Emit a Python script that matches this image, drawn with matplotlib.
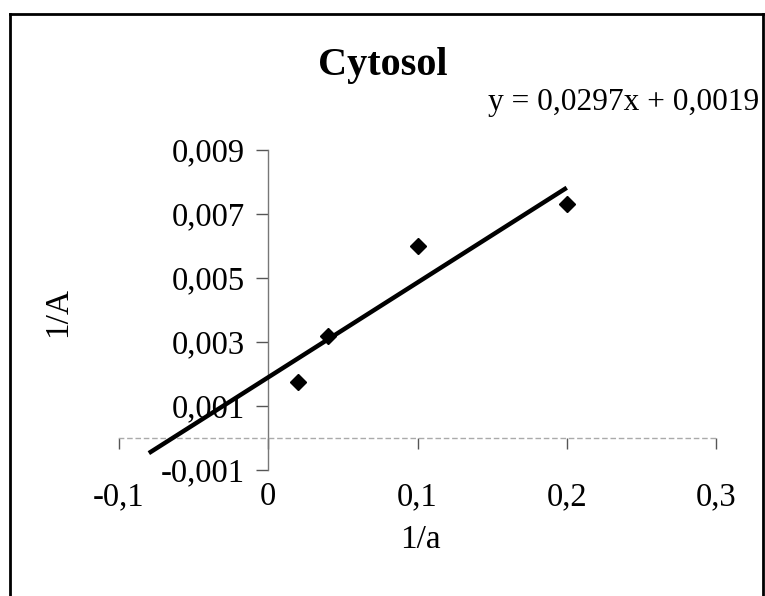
#Lineweaver-Burk style plot, cytosol fraction
import numpy as np
import matplotlib.pyplot as plt
from matplotlib.lines import Line2D
from matplotlib.transforms import blended_transform_factory

plt.rcParams['font.family'] = ['Liberation Serif', 'DejaVu Serif']

inv_a = [0.02, 0.04, 0.1, 0.2]
inv_A = [0.00175, 0.0032, 0.006, 0.0073]

xticks = [-0.1, 0, 0.1, 0.2, 0.3]
xlabels = ['-0,1', '0', '0,1', '0,2', '0,3']
yticks = [-0.001, 0.001, 0.003, 0.005, 0.007, 0.009]
ylabels = ['-0,001', '0,001', '0,003', '0,005', '0,007', '0,009']

# linear trend, extended 0.1 backwards like Excel does
slope, icept = np.polyfit(inv_a, inv_A, 1)
x_fit = np.array([min(inv_a) - 0.1, max(inv_a)])
y_fit = slope * x_fit + icept

fig = plt.figure(figsize=(7.65, 5.96), dpi=100)
ax = fig.add_axes([119/765, 1 - 470/596, (716 - 119)/765, (470 - 150)/596])

ax.plot(x_fit, y_fit, color='black', linewidth=3.2, solid_capstyle='butt', zorder=3)
ax.plot(inv_a, inv_A, linestyle='none', marker='D', markersize=8,
        color='black', zorder=4)

ax.set_xlim(-0.1, 0.3)
ax.set_ylim(-0.001, 0.009)

for s in ['top', 'right']:
    ax.spines[s].set_visible(False)
ax.spines['left'].set_position(('data', 0))
ax.spines['left'].set_color('#777777')
ax.spines['left'].set_linewidth(1.0)
ax.spines['bottom'].set_position(('data', 0))
ax.spines['bottom'].set_color('#aaaaaa')
ax.spines['bottom'].set_linewidth(1.0)
ax.spines['bottom'].set_linestyle((0, (3, 3)))

ax.set_yticks(yticks)
ax.set_yticklabels(ylabels)
ax.tick_params(axis='y', direction='out', length=9, width=1, color='#555555',
               pad=8, labelsize=23.5)

# x tick marks on the axis line, labels at the bottom of the plot area
ax.set_xticks(xticks)
ax.set_xticklabels([])
ax.tick_params(axis='x', direction='out', length=8, width=1, color='#555555')
trans = blended_transform_factory(ax.transData, ax.transAxes)
for xv, lab in zip(xticks, xlabels):
    ax.text(xv, -0.085, lab, transform=trans, ha='center', va='center',
            fontsize=23.5)

fig.text(420/765, 1 - 540/596, '1/a', ha='center', va='center', fontsize=24)
fig.text(58/765, 1 - 312/596, '1/A', ha='center', va='center', fontsize=24,
         rotation=90)
fig.text(383/765, 1 - 66/596, 'Cytosol', ha='center', va='center',
         fontsize=29, fontweight='bold')
fig.text(488/765, 1 - 103/596, 'y = 0,0297x + 0,0019', ha='left',
         va='center', fontsize=22.6)

# chart frame (bottom edge is cut off in the original)
for xs, ys in [([10, 10], [596, 14]), ([10, 763], [14, 14]), ([763, 763], [14, 596])]:
    fig.add_artist(Line2D([x/765 for x in xs], [1 - y/596 for y in ys],
                          color='black', linewidth=2))

fig.savefig('out.png', dpi=100)
